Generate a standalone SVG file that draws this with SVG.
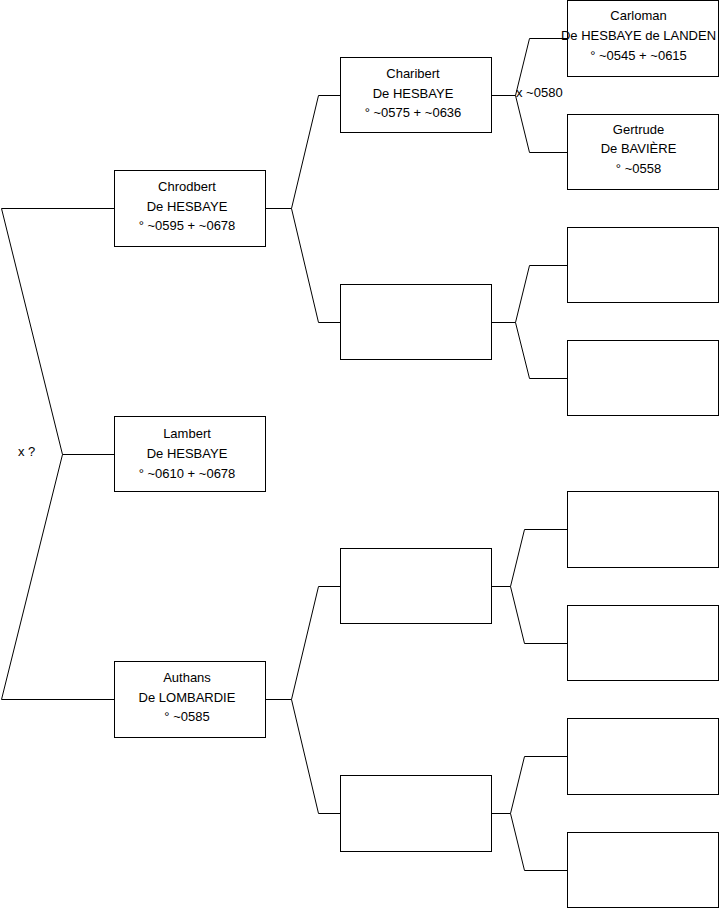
<svg xmlns="http://www.w3.org/2000/svg" width="719" height="908" viewBox="0 0 719 908">
<style>
.box{fill:#fff;stroke:#000;stroke-width:1}
.ln{fill:none;stroke:#000;stroke-width:1}
text{font-family:"Liberation Sans",Arial,sans-serif;font-size:13px;fill:#000}
.c{text-anchor:middle}
</style>
<rect width="719" height="908" fill="#fff"/>
<g id="connectors">
<path class="ln" d="M114.5,208.5 H1.5 L62.5,454.5 H114.5 M62.5,454.5 L1.5,699.5 H114.5"/>
<path class="ln" d="M265.5,208.5 H291.5 L318.5,95.5 H340.5 M291.5,208.5 L318.5,322.5 H340.5"/>
<path class="ln" d="M265.5,699.5 H291.5 L318.5,586.5 H340.5 M291.5,699.5 L318.5,813.5 H340.5"/>
<path class="ln" d="M491.5,95.5 H515.5 L529.5,38.5 H567.5 M515.5,95.5 L529.5,152.5 H567.5"/>
<path class="ln" d="M491.5,322.5 H515.5 L529.5,265.5 H567.5 M515.5,322.5 L529.5,378.5 H567.5"/>
<path class="ln" d="M491.5,586.5 H510.5 L524.5,529.5 H567.5 M510.5,586.5 L524.5,643.5 H567.5"/>
<path class="ln" d="M491.5,813.5 H510.5 L524.5,756.5 H567.5 M510.5,813.5 L524.5,870.5 H567.5"/>
</g>
<g id="label-x1"><text x="18" y="456">x ?</text></g>
<g id="chrodbert"><rect class="box" x="114.5" y="170.5" width="151" height="76"/>
<text class="c" x="187" y="191">Chrodbert</text><text class="c" x="187" y="211">De HESBAYE</text><text class="c" x="187" y="230">° ~0595 + ~0678</text></g>
<g id="lambert"><rect class="box" x="114.5" y="416.5" width="151" height="75"/>
<text class="c" x="187" y="438">Lambert</text><text class="c" x="187" y="458">De HESBAYE</text><text class="c" x="187" y="478">° ~0610 + ~0678</text></g>
<g id="authans"><rect class="box" x="114.5" y="661.5" width="151" height="76"/>
<text class="c" x="187" y="682">Authans</text><text class="c" x="187" y="702">De LOMBARDIE</text><text class="c" x="187" y="721">° ~0585</text></g>
<g id="charibert"><rect class="box" x="340.5" y="57.5" width="151" height="75"/>
<text class="c" x="413" y="78">Charibert</text><text class="c" x="413" y="98">De HESBAYE</text><text class="c" x="413" y="117">° ~0575 + ~0636</text></g>
<g id="p2b"><rect class="box" x="340.5" y="284.5" width="151" height="75"/></g>
<g id="p3a"><rect class="box" x="340.5" y="548.5" width="151" height="75"/></g>
<g id="p3b"><rect class="box" x="340.5" y="775.5" width="151" height="76"/></g>
<g id="label-x2"><text x="516" y="97">x ~0580</text></g>
<g id="carloman"><rect class="box" x="567.5" y="0.5" width="151" height="76"/>
<text class="c" x="638.5" y="20">Carloman</text><text class="c" x="638.5" y="40">De HESBAYE de LANDEN</text><text class="c" x="638.5" y="60">° ~0545 + ~0615</text></g>
<g id="gertrude"><rect class="box" x="567.5" y="114.5" width="151" height="75"/>
<text class="c" x="638.5" y="134">Gertrude</text><text class="c" x="638.5" y="153">De BAVIÈRE</text><text class="c" x="638.5" y="173">° ~0558</text></g>
<g id="q3"><rect class="box" x="567.5" y="227.5" width="151" height="75"/></g>
<g id="q4"><rect class="box" x="567.5" y="340.5" width="151" height="75"/></g>
<g id="q5"><rect class="box" x="567.5" y="491.5" width="151" height="76"/></g>
<g id="q6"><rect class="box" x="567.5" y="605.5" width="151" height="75"/></g>
<g id="q7"><rect class="box" x="567.5" y="718.5" width="151" height="76"/></g>
<g id="q8"><rect class="box" x="567.5" y="832.5" width="151" height="75"/></g>
</svg>
